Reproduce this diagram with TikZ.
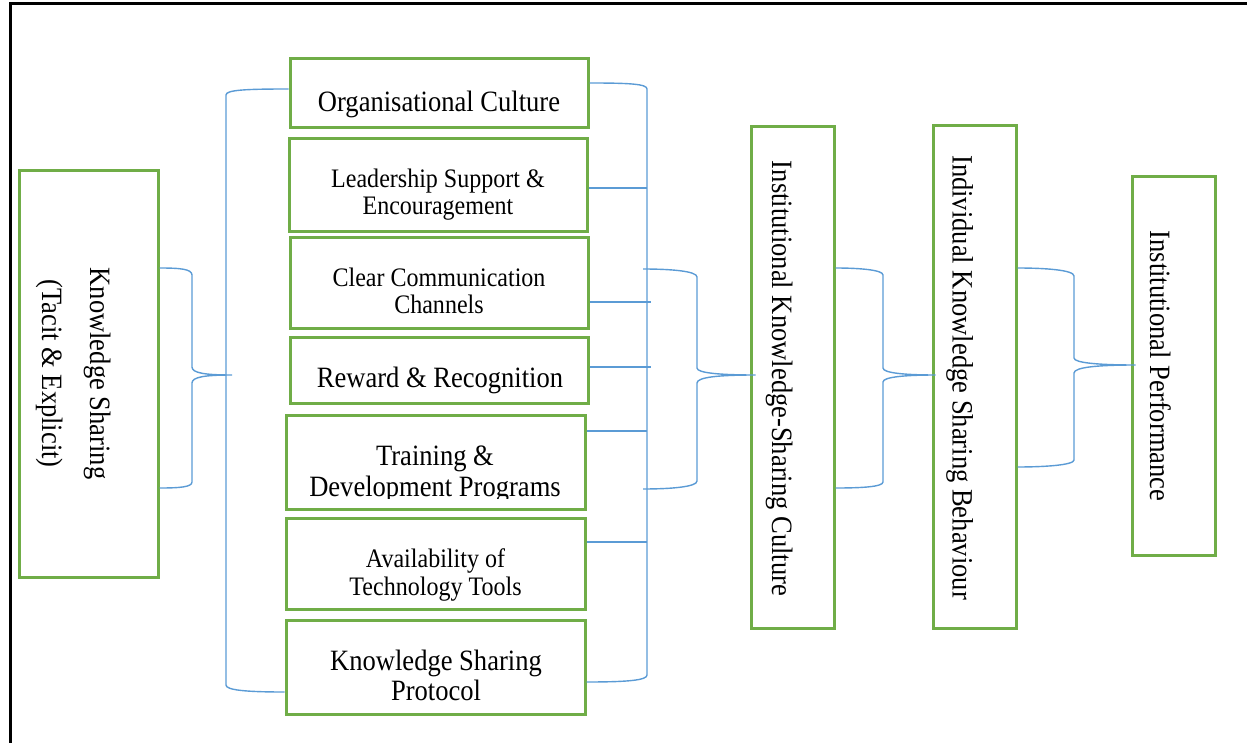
\documentclass[tikz,border=0pt]{standalone}
\usepackage{fontspec}
\setmainfont{Liberation Serif}[FakeStretch=0.9]
\usetikzlibrary{calc}
\definecolor{boxgreen}{HTML}{70AD47}
\definecolor{linkblue}{HTML}{5B9BD5}

\begin{document}
\begin{tikzpicture}[x=1pt, y=-1pt,
  box/.style={draw=boxgreen, line width=3pt, rectangle, inner sep=0pt},
  link/.style={draw=linkblue, line width=1.4pt},
  big/.style={font=\fontsize{29.5}{31}\selectfont},
  small/.style={font=\fontsize{26.7}{27}\selectfont},
  lbl/.style={inner sep=0pt, anchor=base},
]
\useasboundingbox (0,0) rectangle (1247,743);

% page frame
\draw[line width=3pt] (10.5,743) -- (10.5,4) -- (1247,4);

% boxes
\node[box, minimum width=139pt, minimum height=406pt] (ks) at (88.5,374) {};
\node[box, minimum width=298pt, minimum height=69pt]  (oc) at (439,93.5) {};
\node[box, minimum width=298pt, minimum height=93pt]  (ls) at (438,185.5) {};
\node[box, minimum width=298pt, minimum height=90pt]  (cc) at (439,283) {};
\node[box, minimum width=298pt, minimum height=66pt]  (rr) at (439,370) {};
\node[box, minimum width=299pt, minimum height=94pt]  (td) at (435.5,462) {};
\node[box, minimum width=299pt, minimum height=91pt]  (at) at (435.5,563.5) {};
\node[box, minimum width=299pt, minimum height=94pt]  (kp) at (435.5,667) {};
\node[box, minimum width=83pt, minimum height=501pt]  (ic) at (792.5,377.5) {};
\node[box, minimum width=83pt, minimum height=502pt]  (ib) at (974.5,377) {};
\node[box, minimum width=83pt, minimum height=378pt]  (ip) at (1173.5,366) {};

% labels of the factor boxes
\node[lbl, big] (t-oc) at (439,112) {Organisational Culture};
\node[lbl, small] (t-ls) at (438,188)
  {\begin{tabular}[t]{@{}c@{}}Leadership Support \&\\Encouragement\end{tabular}};
\node[lbl, font=\fontsize{26.7}{26.5}\selectfont] (t-cc) at (439,287)
  {\begin{tabular}[t]{@{}c@{}}Clear Communication\\Channels\end{tabular}};
\node[lbl, big] (t-rr) at (440,387) {Reward \& Recognition};
\begin{scope}
  \clip (td.north west) rectangle ($(td.south east)+(0,-12)$);
  \node[lbl, big] (t-td) at (435,465)
    {\begin{tabular}[t]{@{}c@{}}Training \&\\Development Programs\end{tabular}};
\end{scope}
\node[lbl, font=\fontsize{26.7}{28}\selectfont] (t-at) at (435.5,567)
  {\begin{tabular}[t]{@{}c@{}}Availability of\\Technology Tools\end{tabular}};
\node[lbl, font=\fontsize{29.5}{30}\selectfont] (t-kp) at (436,670)
  {\begin{tabular}[t]{@{}c@{}}Knowledge Sharing\\Protocol\end{tabular}};

% vertical labels
\node[lbl, font=\fontsize{29.5}{48}\selectfont, rotate=-90] (t-ks) at (90,373.5)
  {\begin{tabular}[t]{@{}c@{}}Knowledge Sharing\\(Tacit \& Explicit)\end{tabular}};
\node[lbl, big, rotate=-90] (t-ic) at (772,378.5) {Institutional Knowledge-Sharing Culture};
\node[lbl, big, rotate=-90] (t-ib) at (952.5,377.5) {Individual Knowledge Sharing Behaviour};
\node[lbl, big, rotate=-90] (t-ip) at (1150,366) {Institutional Performance};

% brace from knowledge sharing to the factor group
\draw[link] (ks.east |- 0,268) .. controls (180,268) and (192,269) .. (192,275)
  -- (192,367) .. controls (192,373) and (205,375) .. (232,375)
  .. controls (205,375) and (192,377) .. (192,383)
  -- (192,482) .. controls (192,487) and (180,488) .. (ks.east |- 0,488);

% left bracket of the factor group
\draw[link] (oc.west |- 0,89) .. controls (245,89) and (226,90) .. (226,95)
  -- (226,685) .. controls (226,690) and (245,692) .. (kp.west |- 0,692);

% right bracket of the factor group and its ties
\coordinate (spine) at (647,0);
\draw[link] (oc.east |- 0,83) .. controls (630,83) and (647,84) .. (647,89)
  -- (647,675) .. controls (647,680) and (630,682) .. (kp.east |- 0,682);
\draw[link] (ls.east |- 0,188) -- (spine |- 0,188);
\draw[link] (cc.east |- 0,302) -- ($(spine |- 0,302)+(4,0)$);
\draw[link] (rr.east |- 0,367) -- ($(spine |- 0,367)+(4,0)$);
\draw[link] (td.east |- 0,431) -- (spine |- 0,431);
\draw[link] (at.east |- 0,542) -- (spine |- 0,542);

% brace from the factor group to the institutional culture
\draw[link] (643,269) .. controls (670,269) and (697,271) .. (697,277)
  -- (697,368) .. controls (697,373) and (720,375) .. ($(ic.west |- 0,375)+(6,0)$)
  .. controls (720,375) and (697,377) .. (697,383)
  -- (697,481) .. controls (697,487) and (670,489) .. (643,489);

% brace from the institutional culture to individual behaviour
\draw[link] (ic.east |- 0,268) .. controls (860,268) and (883,270) .. (883,275)
  -- (883,368) .. controls (883,373) and (905,375) .. ($(ib.west |- 0,375)+(4,0)$)
  .. controls (905,375) and (883,377) .. (883,382)
  -- (883,482) .. controls (883,487) and (860,488) .. (ic.east |- 0,488);

% brace from individual behaviour to institutional performance
\draw[link] (ib.east |- 0,268) .. controls (1045,268) and (1074,270) .. (1074,276)
  -- (1074,358) .. controls (1074,363) and (1100,365) .. ($(ip.west |- 0,365)+(5,0)$)
  .. controls (1100,365) and (1074,367) .. (1074,373)
  -- (1074,460) .. controls (1074,465) and (1045,467) .. (ib.east |- 0,467);
\end{tikzpicture}
\end{document}
